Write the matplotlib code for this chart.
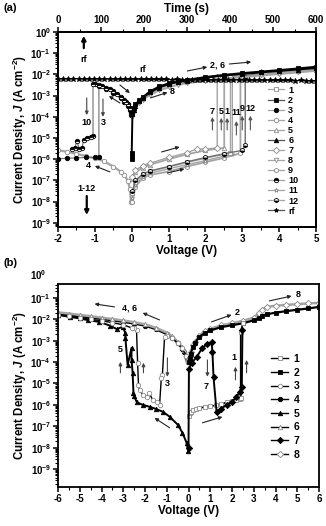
import matplotlib
matplotlib.use('Agg')
import matplotlib.pyplot as plt
from matplotlib.lines import Line2D
from matplotlib.ticker import LogLocator, MultipleLocator, NullFormatter

plt.rcParams['font.family'] = ['Liberation Sans', 'DejaVu Sans']
plt.rcParams['font.weight'] = 'bold'
plt.rcParams['axes.labelweight'] = 'bold'
plt.rcParams['mathtext.fontset'] = 'custom'
plt.rcParams['mathtext.rm'] = 'Liberation Sans:bold'
plt.rcParams['mathtext.it'] = 'Liberation Sans:italic:bold'
plt.rcParams['mathtext.bf'] = 'Liberation Sans:bold'
plt.rcParams['mathtext.default'] = 'rm'
plt.rcParams['axes.unicode_minus'] = False
plt.rcParams['axes.linewidth'] = 1.3

# ---------------- Panel (a) data ----------------
Va_on = [0.02, 0.05, 0.1, 0.2, 0.3, 0.5, 0.75, 1.0, 1.25, 1.5, 2.0, 2.5, 3.0, 3.5, 4.0, 4.5, 5.0]
Ja2_on = [1.5e-4, 2.5e-4, 3.8e-4, 6e-4, 8.5e-4, 1.6e-3, 2.7e-3, 3.8e-3, 4.6e-3, 5.5e-3, 7.5e-3, 9.5e-3, 1.15e-2, 1.35e-2, 1.6e-2, 1.9e-2, 2.3e-2]
Ja6_on = [1.3e-4, 2.2e-4, 3.4e-4, 5.5e-4, 8e-4, 1.4e-3, 2.4e-3, 3.4e-3, 4.3e-3, 5.1e-3, 7e-3, 8.8e-3, 1.05e-2, 1.25e-2, 1.45e-2, 1.7e-2, 2e-2]
Ja8_on = [1e-4, 1.7e-4, 2.8e-4, 4.5e-4, 6.5e-4, 1.1e-3, 1.8e-3, 2.5e-3, 3.2e-3, 3.9e-3, 5e-3, 6.3e-3, 7.5e-3, 9e-3, 1.05e-2, 1.25e-2, 1.5e-2]
Va2_start = [0.0, 0.0, 0.0]
Ja2_start = [1e-6, 1.4e-6, 2e-6]

Va1 = [0.02, 0.1, 0.3, 0.5, 1.0, 1.5, 2.0, 2.5, 2.68, 2.68, 3.0, 3.5, 4.0, 4.5, 5.0]
Ja1 = [2.5e-8, 8e-8, 1.9e-7, 2.7e-7, 4.3e-7, 7e-7, 1.1e-6, 1.7e-6, 2e-6, 7.5e-3, 1e-2, 1.2e-2, 1.4e-2, 1.7e-2, 2e-2]
Va5 = [0.02, 0.1, 0.3, 0.5, 1.0, 1.5, 2.0, 2.51, 2.51, 3.0, 3.5, 4.0, 4.5, 5.0]
Ja5 = [1.2e-7, 2.4e-7, 4e-7, 5.5e-7, 1e-6, 1.7e-6, 2.6e-6, 3.4e-6, 7.5e-3, 9.5e-3, 1.1e-2, 1.3e-2, 1.5e-2, 1.7e-2]
Va7 = [0.02, 0.1, 0.3, 0.5, 1.0, 1.5, 1.76, 2.0, 2.32, 2.32, 3.0, 3.5, 4.0, 4.5, 5.0]
Ja7 = [1.5e-7, 3e-7, 5e-7, 6.5e-7, 1.2e-6, 2e-6, 3e-6, 3e-6, 3.4e-6, 7.5e-3, 1.05e-2, 1.25e-2, 1.45e-2, 1.7e-2, 2e-2]
Va9 = [0.02, 0.1, 0.3, 0.5, 1.0, 1.5, 2.0, 2.5, 2.95, 2.95, 3.5, 4.0, 4.5, 5.0]
Ja9 = [1e-8, 5e-8, 1.3e-7, 1.8e-7, 2.6e-7, 4.5e-7, 7.2e-7, 1.15e-6, 1.9e-6, 7.5e-3, 1.1e-2, 1.3e-2, 1.5e-2, 1.75e-2]
Va11 = [0.02, 0.1, 0.3, 0.5, 1.0, 1.5, 2.0, 2.5, 2.73, 2.73, 3.0, 3.5, 4.0, 4.5, 5.0]
Ja11 = [1.5e-8, 6e-8, 1.5e-7, 2.2e-7, 3.5e-7, 5.5e-7, 8.5e-7, 1.4e-6, 1.8e-6, 7e-3, 8e-3, 1e-2, 1.2e-2, 1.4e-2, 1.6e-2]
Va12 = [0.02, 0.1, 0.3, 0.5, 1.0, 1.5, 2.0, 2.5, 3.0, 3.08, 3.08, 3.5, 4.0, 4.5, 5.0]
Ja12 = [3e-8, 1e-7, 2e-7, 2.8e-7, 4.5e-7, 7.5e-7, 1.2e-6, 1.8e-6, 2.6e-6, 4.5e-6, 7.5e-3, 1.3e-2, 1.5e-2, 1.8e-2, 2.1e-2]

Va4 = [-0.02, -0.05, -0.1, -0.2, -0.3, -0.5, -0.75, -1.0, -1.25, -1.5, -1.75, -2.0]
Ja4 = [1e-8, 4e-8, 9e-8, 1.8e-7, 2.6e-7, 4.5e-7, 8e-7, 1.1e-6, 1.4e-6, 1.8e-6, 2.2e-6, 2.7e-6]
Va3 = [-0.02, -0.05, -0.1, -0.2, -0.3, -0.5, -0.7, -0.89, -0.89, -1.0, -1.25, -1.5, -1.75, -2.0]
Ja3 = [1.2e-4, 2e-4, 3.2e-4, 5.2e-4, 7.5e-4, 1.35e-3, 2.1e-3, 2.8e-3, 1.3e-6, 1.2e-6, 1.2e-6, 1.15e-6, 1.1e-6, 1.05e-6]
Va10 = [-0.02, -0.05, -0.1, -0.15, -0.2, -0.3, -0.4, -0.5, -0.6, -0.7, -0.8, -0.9, -1.0, -1.05, -1.05,
        -1.1, -1.2, -1.3, -1.35, -1.42, -1.49, -1.55, -1.62]
Ja10 = [1.5e-4, 2.5e-4, 4e-4, 5.2e-4, 6.5e-4, 9e-4, 1.2e-3, 1.6e-3, 2e-3, 2.4e-3, 2.8e-3, 3.1e-3, 3.4e-3, 3.6e-3, 1.3e-5,
        1.1e-5, 1e-5, 8e-6, 3.5e-6, 3e-6, 7e-6, 3.2e-6, 3e-6]

t_rf = [0, 12, 24, 36, 48, 60, 72, 84, 96, 108, 120, 132, 144, 156, 168, 180, 192, 204, 216, 228,
        240, 252, 264, 276, 288, 300, 312, 324, 336, 348, 360, 372, 384, 396, 408, 420, 432, 444,
        456, 468, 480, 492, 504, 516, 528, 540, 552, 564, 576, 588, 600]
J_rf = [6.3e-3, 6.3e-3, 6.2e-3, 6.3e-3, 6.2e-3, 6.2e-3, 6.1e-3, 6.2e-3, 6.1e-3, 6.1e-3, 6.0e-3, 6.1e-3,
        6.0e-3, 6.0e-3, 5.9e-3, 6.0e-3, 5.9e-3, 5.9e-3, 5.8e-3, 5.9e-3, 5.8e-3, 5.8e-3, 5.7e-3, 5.8e-3,
        5.7e-3, 5.7e-3, 5.6e-3, 5.7e-3, 5.6e-3, 5.6e-3, 5.5e-3, 5.6e-3, 5.5e-3, 5.5e-3, 5.4e-3, 5.5e-3,
        5.4e-3, 5.4e-3, 5.3e-3, 5.4e-3, 5.3e-3, 5.3e-3, 5.2e-3, 5.3e-3, 5.2e-3, 5.2e-3, 5.1e-3, 5.2e-3,
        5.1e-3, 5.1e-3, 5.0e-3]

labels_a = ['1', '2', '3', '4', '5', '6', '7', '8', '9', '10', '11', '12', 'rf']

# ---------------- Panel (b) data ----------------
Vb_neg = [-0.02, -0.05, -0.1, -0.2, -0.3, -0.5, -0.75, -1.0, -1.5, -2.0, -2.5, -3.0, -3.5, -4.0, -4.5, -5.0, -5.5, -6.0]
Jb6 = [1.2e-4, 1.6e-4, 2.2e-4, 3.5e-4, 5e-4, 9e-4, 1.6e-3, 2.4e-3, 4e-3, 5.8e-3, 7.3e-3, 8.8e-3, 1.03e-2, 1.2e-2, 1.4e-2, 1.6e-2, 1.85e-2, 2.1e-2]
Jb4 = [1e-4, 1.4e-4, 1.9e-4, 3e-4, 4.3e-4, 7.7e-4, 1.35e-3, 2e-3, 3.4e-3, 5e-3, 6.2e-3, 7.5e-3, 8.8e-3, 1.02e-2, 1.2e-2, 1.37e-2, 1.57e-2, 1.8e-2]

Vb_pos = [0.02, 0.05, 0.1, 0.2, 0.3, 0.5, 0.75, 1.0, 1.5, 2.0, 2.5, 3.0, 3.25, 3.4, 3.6, 4.0, 4.5, 5.0, 5.5, 6.0]
Jb2 = [1e-4, 1.5e-4, 2.5e-4, 5e-4, 8e-4, 1.5e-3, 2.3e-3, 3e-3, 4.3e-3, 5.3e-3, 6.5e-3, 9e-3, 1.1e-2, 1.5e-2, 1.7e-2, 2.05e-2, 2.4e-2, 2.8e-2, 3.2e-2, 3.8e-2]
Jb8_on = [1.2e-4, 1.8e-4, 3e-4, 6e-4, 9e-4, 1.7e-3, 2.8e-3, 3.6e-3, 5.2e-3, 6.5e-3, 8.5e-3, 1.2e-2, 2e-2, 2.8e-2, 3.8e-2, 4.3e-2, 4.7e-2, 5.1e-2, 5.5e-2, 5.9e-2]

Vb1 = [0.02, 0.05, 0.1, 0.2, 0.35, 0.5, 0.75, 1.0, 1.25, 1.5, 1.75, 2.0, 2.2, 2.35, 2.4, 2.4, 2.5]
Jb1 = [3e-7, 4e-7, 4.7e-7, 5.5e-7, 6.3e-7, 7e-7, 8e-7, 8.5e-7, 9.5e-7, 1.1e-6, 1.3e-6, 1.5e-6, 1.7e-6, 1.9e-6, 2e-6, 2.6e-3, 6.5e-3]

Vb7 = [0.0, 0.02, 0.14, 0.37, 0.64, 0.85, 1.06, 1.1, 1.15, 1.29, 1.5, 1.75, 2.0, 2.2, 2.35, 2.45, 2.48]
Jb7 = [1e-8, 5e-5, 9e-5, 1.7e-4, 4.6e-4, 7e-4, 8.7e-4, 3e-4, 2e-5, 4.7e-7, 6.5e-7, 1e-6, 1.4e-6, 2.3e-6, 4e-6, 7e-6, 3.2e-3]

Vb5 = [-0.02, -0.09, -0.28, -0.5, -0.87, -1.17, -1.5, -1.77, -2.1, -2.37, -2.5, -2.53, -2.57, -2.62, -2.62,
       -2.8, -2.9, -2.9, -3.03, -3.3, -3.6, -4.1, -4.6, -5.0, -5.47, -6.0]
Jb5 = [7e-9, 1.7e-8, 5e-8, 1.2e-7, 2.8e-7, 4.7e-7, 6.5e-7, 8e-7, 1e-6, 1.3e-6, 2.5e-6, 3.6e-6, 3.2e-5, 1.3e-4, 4.6e-4,
       7.4e-5, 1.3e-3, 2.3e-3, 4.4e-3, 3.5e-3, 5e-3, 7.6e-3, 9e-3, 1.1e-2, 1.3e-2, 1.6e-2]

Vb3 = [-0.02, -0.1, -0.3, -0.5, -0.75, -1.0, -1.1, -1.2, -1.25, -1.33, -1.45, -1.65, -1.8, -1.93, -2.1, -2.25,
       -2.3, -2.34, -2.39, -2.5, -2.62, -3.0, -3.5, -4.0, -4.5, -5.0, -5.5, -6.0]
Jb3 = [1e-4, 2e-4, 4.5e-4, 8e-4, 1.3e-3, 1.6e-3, 1.5e-3, 2.5e-5, 1.8e-5, 1e-6, 1.3e-6, 1.7e-6, 3.6e-6, 2.4e-6, 3e-6, 5e-6,
       8.6e-6, 9e-5, 3.2e-3, 4e-3, 4e-3, 5.5e-3, 7e-3, 8.5e-3, 1e-2, 1.2e-2, 1.4e-2, 1.6e-2]

labels_b = ['1', '2', '3', '4', '5', '6', '7', '8']

# ---------------- styles ----------------
GREY = '#8a8a8a'
LGREY = '#a5a5a5'
DGREY = '#707070'

def style(marker, kind, line='grey'):
    d = dict(marker=marker, ms=3.2, mew=0.6)
    if kind == 'black':
        d.update(mfc='black', mec='black')
    elif kind == 'open':
        d.update(mfc='white', mec=GREY)
    elif kind == 'half':
        d.update(mfc='black', mec='black', fillstyle='top', mfcalt='white')
    elif kind == 'half2':
        d.update(mfc='black', mec='black', fillstyle='bottom', mfcalt='white')
    d['color'] = {'black': 'black', 'dark': DGREY}.get(line, LGREY)
    return d

st_a = {
    '1': style('s', 'open'), '2': style('s', 'black', 'black'), '3': style('o', 'black', 'dark'),
    '4': style('o', 'open'), '5': style('^', 'open'), '6': style('^', 'black', 'black'),
    '7': style('D', 'open'), '8': style('v', 'open'), '9': style('h', 'open'),
    '10': style('o', 'half', 'dark'), '11': style('*', 'open'), '12': style('h', 'half2', 'dark'),
    'rf': style('*', 'black', 'black'),
}
st_b = {
    '1': style('s', 'open', 'black'), '2': style('s', 'black', 'black'), '3': style('o', 'open', 'black'),
    '4': style('o', 'black', 'black'), '5': style('^', 'black', 'black'), '6': style('^', 'open'),
    '7': style('D', 'black', 'black'), '8': style('D', 'open'),
}

fig = plt.figure(figsize=(3.26, 5.26), dpi=100)
W, H = 326.0, 526.0
axA = fig.add_axes([58 / W, 1 - 227 / H, (316 - 58) / W, (227 - 32) / H])
axB = fig.add_axes([58 / W, 1 - 487 / H, (319 - 58) / W, (487 - 284) / H])

def plot(ax, V, J, s, lw=1.0):
    ax.plot(V, J, '-', lw=lw, **s)

# panel a curves
plot(axA, Va4, Ja4, st_a['4'], 1.6)
plot(axA, Va3, Ja3, st_a['3'], 0.8)
plot(axA, Va10, Ja10, st_a['10'], 0.8)
plot(axA, Va9, Ja9, st_a['9'], 1.3)
plot(axA, Va11, Ja11, st_a['11'], 1.0)
plot(axA, Va5, Ja5, st_a['5'], 1.3)
plot(axA, Va7, Ja7, st_a['7'], 1.0)
plot(axA, Va1, Ja1, st_a['1'], 1.0)
plot(axA, Va12, Ja12, st_a['12'], 1.0)
plot(axA, Va_on, Ja8_on, st_a['8'], 1.6)
plot(axA, Va_on, Ja6_on, st_a['6'], 1.4)
plot(axA, Va2_start + Va_on, Ja2_start + Ja2_on, st_a['2'], 1.4)

axA.set_yscale('log')
axA.set_xlim(-2, 5)
axA.set_ylim(10 ** -9.2, 1)

axT = axA.twiny()
axT.plot(t_rf, J_rf, '-', lw=0.8, **{k: v for k, v in st_a['rf'].items() if k != 'ms'}, ms=4)
axT.set_xlim(0, 600)
axT.xaxis.set_major_locator(MultipleLocator(100))
axT.xaxis.set_minor_locator(MultipleLocator(50))
axT.tick_params(axis='x', which='major', direction='out', length=3.5, width=1.1, labelsize=7, pad=1.5)
axT.tick_params(axis='x', which='minor', direction='out', length=2, width=0.8)
axT.set_xlabel('Time (s)', fontsize=8.5, labelpad=2)
for sp in axT.spines.values():
    sp.set_linewidth(1.3)

axA.set_ylim(10 ** -9.2, 1)
axA.xaxis.set_major_locator(MultipleLocator(1))
axA.xaxis.set_minor_locator(MultipleLocator(0.5))
axA.yaxis.set_major_locator(LogLocator(base=10, numticks=20))
axA.yaxis.set_minor_locator(LogLocator(base=10, subs=range(2, 10), numticks=20))
axA.yaxis.set_minor_formatter(NullFormatter())
axA.tick_params(axis='both', which='major', direction='out', length=3.5, width=1.1, labelsize=7, pad=1.5)
axA.tick_params(axis='both', which='minor', direction='out', length=2, width=0.8)
axA.tick_params(top=False, right=False, which='both')
axA.set_xlabel('Voltage (V)', fontsize=8.5, labelpad=1)
axA.set_ylabel('Current Density, $\\mathit{J}$ (A cm$^{-2}$)', fontsize=8.3, labelpad=1)

def arrow(ax, x0, y0, x1, y1, lw=0.8, col='#222222', ms=5):
    ax.annotate('', xy=(x1, y1), xytext=(x0, y0),
                arrowprops=dict(arrowstyle='-|>', lw=lw, color=col, mutation_scale=ms,
                                shrinkA=0, shrinkB=0))

def lab(ax, x, y, s, fs=6.5):
    ax.text(x, y, s, fontsize=fs, ha='center', va='center', fontweight='bold')

# annotations panel (a)
arrow(axA, -1.30, 10 ** -0.76, -1.30, 10 ** -0.18, lw=1.6, col='black', ms=6)
lab(axA, -1.30, 10 ** -1.3, 'rf')
lab(axA, 0.30, 10 ** -1.79, 'rf')
lab(axA, 2.32, 10 ** -1.56, '2, 6')
arrow(axA, 1.51, 10 ** -1.84, 2.05, 10 ** -1.65)
arrow(axA, 2.65, 10 ** -1.51, 3.24, 10 ** -1.415)
lab(axA, 1.11, 10 ** -2.83, '8')
arrow(axA, 0.51, 10 ** -3.11, 0.97, 10 ** -2.85)
arrow(axA, -0.32, 10 ** -2.5, -0.05, 10 ** -2.88)
arrow(axA, -0.32, 10 ** -3.35, -0.62, 10 ** -3.02)
lab(axA, -1.22, 10 ** -4.29, '10')
arrow(axA, -1.22, 10 ** -3.11, -1.22, 10 ** -3.92, col='#444444')
lab(axA, -0.78, 10 ** -4.25, '3')
arrow(axA, -0.78, 10 ** -3.16, -0.78, 10 ** -4.0, col='#444444')
for v, ly, a0, a1, txt in [(2.19, -3.73, -4.62, -4.01, '7'), (2.43, -3.73, -4.62, -4.05, '5'),
                           (2.59, -3.73, -4.62, -4.05, '1'), (2.84, -3.82, -4.86, -4.2, '11'),
                           (3.00, -3.63, -4.62, -3.95, '9'), (3.22, -3.63, -4.62, -3.95, '12')]:
    lab(axA, v, 10 ** ly, txt)
    arrow(axA, v, 10 ** a0, v, 10 ** a1, col='#555555')
arrow(axA, 0.81, 10 ** -5.66, 1.30, 10 ** -5.42)
arrow(axA, 0.97, 10 ** -6.65, 1.43, 10 ** -6.46)
lab(axA, -1.19, 10 ** -6.32, '4')
arrow(axA, -0.59, 10 ** -6.6, -1.0, 10 ** -6.32)
lab(axA, -1.22, 10 ** -7.36, '1-12')
arrow(axA, -1.22, 10 ** -7.74, -1.22, 10 ** -8.63, lw=1.6, col='black', ms=6)

# legend (a)
hA = [Line2D([], [], lw=0.9, **dict(st_a[k], color=LGREY if k not in ('2', '6', 'rf') else '#555555'))
      for k in labels_a]
legA = axT.legend(hA, labels_a, loc='upper left', bbox_to_anchor=(0.815, 0.725), frameon=False,
                  fontsize=6.5, handlelength=1.7, handletextpad=0.5, labelspacing=0.12,
                  borderpad=0, borderaxespad=0)

# panel b curves
plot(axB, Vb_neg, Jb4, st_b['4'], 1.4)
plot(axB, Vb_neg, Jb6, st_b['6'], 1.8)
plot(axB, Vb5, Jb5, st_b['5'], 1.4)
plot(axB, Vb3, Jb3, st_b['3'], 1.0)
plot(axB, Vb_pos, Jb8_on, st_b['8'], 1.8)
plot(axB, Vb_pos, Jb2, st_b['2'], 1.6)
plot(axB, Vb1, Jb1, st_b['1'], 1.2)
plot(axB, Vb7, Jb7, st_b['7'], 1.4)

axB.set_yscale('log')
axB.set_xlim(-6, 6)
axB.set_ylim(10 ** -9.84, 10 ** -0.35)
axB.xaxis.set_major_locator(MultipleLocator(1))
axB.xaxis.set_minor_locator(MultipleLocator(0.5))
axB.yaxis.set_major_locator(LogLocator(base=10, numticks=20))
axB.yaxis.set_minor_locator(LogLocator(base=10, subs=range(2, 10), numticks=20))
axB.yaxis.set_minor_formatter(NullFormatter())
axB.tick_params(axis='both', which='major', direction='out', length=3.5, width=1.1, labelsize=7, pad=1.5)
axB.tick_params(axis='both', which='minor', direction='out', length=2, width=0.8)
axB.tick_params(top=False, right=False, which='both')
axB.set_xlabel('Voltage (V)', fontsize=8.5, labelpad=1)
axB.set_ylabel('Current Density, $\\mathit{J}$ (A cm$^{-2}$)', fontsize=8.3, labelpad=1)
axB.text(-0.045, 10 ** 0.06, '$\\mathdefault{10^{0}}$', transform=axB.get_yaxis_transform(),
         ha='right', va='center', fontsize=7, clip_on=False)

# annotations panel (b)
lab(axB, -2.71, 10 ** -1.47, '4, 6')
arrow(axB, -3.40, 10 ** -1.42, -4.32, 10 ** -1.28)
arrow(axB, -1.33, 10 ** -2.03, -2.11, 10 ** -1.70)
lab(axB, -3.13, 10 ** -3.43, '5')
arrow(axB, -3.13, 10 ** -4.5, -3.13, 10 ** -3.99, col='#444444')
arrow(axB, -2.07, 10 ** -4.5, -2.07, 10 ** -4.03, col='#444444')
lab(axB, -0.97, 10 ** -5.02, '3')
arrow(axB, -0.97, 10 ** -3.8, -0.97, 10 ** -4.69, col='#444444')
arrow(axB, -0.87, 10 ** -7.07, -1.56, 10 ** -6.61)
arrow(axB, 0.64, 10 ** -6.84, 1.56, 10 ** -6.56)
lab(axB, 0.83, 10 ** -5.16, '7')
arrow(axB, 0.87, 10 ** -3.9, 0.87, 10 ** -4.69, col='#444444')
lab(axB, 2.11, 10 ** -3.8, '1')
arrow(axB, 2.16, 10 ** -4.83, 2.16, 10 ** -4.22, col='#444444')
arrow(axB, 2.67, 10 ** -4.5, 2.67, 10 ** -3.9, col='#444444')
lab(axB, 2.25, 10 ** -1.7, '2')
arrow(axB, 1.06, 10 ** -2.12, 1.98, 10 ** -1.79)
lab(axB, 5.06, 10 ** -0.86, '8')
arrow(axB, 3.72, 10 ** -1.14, 4.74, 10 ** -0.91)

hB = [Line2D([], [], lw=1.0, **dict(st_b[k], color='black')) for k in labels_b]
legB = axB.legend(hB, labels_b, loc='upper left', bbox_to_anchor=(0.815, 0.655), frameon=False,
                  fontsize=7.5, handlelength=1.7, handletextpad=0.5, labelspacing=0.35,
                  borderpad=0, borderaxespad=0)

fig.text(3 / W, 1 - 8 / H, '(a)', fontsize=8, fontweight='bold', ha='left', va='center')
fig.text(3 / W, 1 - 263 / H, '(b)', fontsize=8, fontweight='bold', ha='left', va='center')

fig.savefig('out.png', dpi=100)
